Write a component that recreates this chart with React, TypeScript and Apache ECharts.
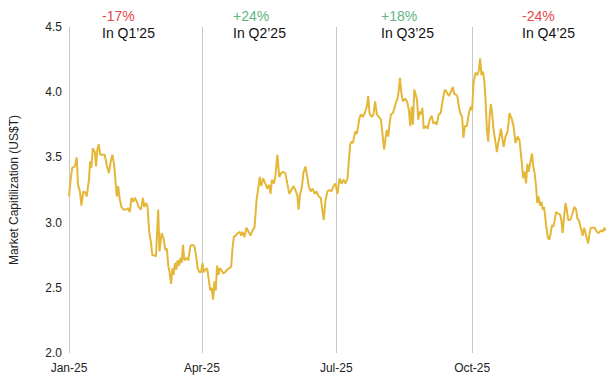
import React, { useEffect, useRef } from "react";
import * as echarts from "echarts";

// Day offsets from 1 Jan 2025 and market cap values (US$T)
const days: number[] = [
  0, 1.2, 2.2, 3.9, 5.2, 6.1, 7.5, 8.4, 9.7, 11.1, 12.0, 13.6, 14.3, 15.1, 16.1, 17.5, 18.3, 19.2, 20.2, 21.1,
  22.6, 24.2, 25.6, 27.0, 28.3, 29.4, 30.6, 31.7, 32.4, 33.3, 34.2, 35.5, 36.9, 38.5, 40.1, 41.2, 42.3, 43.5, 44.6, 46.0,
  47.1, 48.7, 50.1, 50.9, 52.3, 53.2, 54.3, 55.5, 56.4, 57.7, 58.9, 60.4, 61.3, 62.7, 64.0, 65.2, 66.3, 67.2, 68.1, 69.1,
  70.0, 70.8, 71.8, 72.7, 73.5, 74.5, 75.4, 76.3, 77.2, 78.1, 79.5, 80.8, 82.2, 83.5, 84.9, 86.0, 87.1, 88.3, 89.4, 90.5,
  91.2, 92.4, 93.5, 94.6, 95.6, 96.6, 97.6, 98.5, 99.4, 100.3, 101.2, 102.1, 103.0, 104.4, 105.7, 107.1, 108.5, 109.8, 110.7, 111.6,
  112.9, 114.3, 115.7, 116.6, 117.5, 118.8, 120.2, 121.6, 122.9, 124.3, 125.6, 127.0, 128.4, 129.2, 130.2, 131.5, 132.9, 134.3, 135.6, 136.5,
  137.4, 138.7, 139.7, 141.1, 142.4, 143.8, 145.1, 146.5, 147.8, 149.2, 150.6, 151.9, 153.3, 154.6, 155.5, 156.4, 157.8, 158.7, 160.1, 161.4,
  162.3, 163.7, 165.0, 166.4, 167.7, 169.1, 170.5, 171.3, 172.5, 173.7, 175.0, 176.4, 177.7, 179.1, 180.4, 181.8, 183.2, 184.5, 185.9, 187.2,
  188.6, 189.5, 190.4, 191.3, 192.2, 193.1, 194.0, 194.9, 195.8, 196.7, 197.6, 199.0, 200.3, 201.7, 202.6, 203.5, 204.9, 206.2, 207.3, 208.5,
  209.8, 211.2, 212.1, 213.4, 214.4, 215.3, 216.2, 217.1, 218.0, 219.4, 220.7, 221.6, 222.5, 223.4, 224.1, 225.0, 226.1, 227.5, 228.9, 230.2,
  231.1, 232.1, 232.9, 233.8, 234.8, 235.7, 236.5, 237.5, 238.4, 239.3, 240.2, 241.6, 242.9, 244.3, 245.6, 246.7, 248.1, 249.0, 250.4, 251.7,
  253.1, 254.5, 255.8, 257.2, 258.5, 259.9, 260.8, 262.1, 263.0, 264.0, 264.9, 266.2, 267.1, 268.1, 269.4, 270.8, 272.1, 273.0, 273.9, 275.3,
  276.6, 277.6, 278.4, 279.3, 280.3, 281.2, 282.1, 283.0, 283.9, 284.8, 285.7, 286.6, 287.5, 288.9, 289.8, 290.7, 291.6, 292.5, 293.4, 294.3,
  295.6, 297.0, 298.3, 299.7, 301.0, 302.4, 303.8, 305.1, 306.7, 307.6, 308.5, 309.5, 310.4, 311.3, 312.7, 313.5, 314.4, 315.3, 316.3, 317.1,
  318.0, 319.0, 319.9, 320.8, 321.7, 322.6, 323.5, 324.4, 325.3, 326.2, 327.1, 328.0, 328.9, 329.8, 331.2, 332.6, 333.4, 334.3, 335.3, 336.2,
  337.1, 338.0, 339.4, 340.7, 342.1, 343.4, 344.3, 345.2, 346.1, 347.0, 347.9, 348.8, 349.8, 350.6, 351.6, 352.5, 353.4, 354.7, 356.1, 357.4,
  358.8, 360.1, 361.5, 362.4, 363.3,
];

const values: number[] = [
  3.20, 3.34, 3.42, 3.43, 3.50, 3.29, 3.23, 3.13, 3.24, 3.23, 3.20, 3.34, 3.47, 3.42, 3.57, 3.54, 3.43, 3.56, 3.60, 3.52,
  3.52, 3.52, 3.44, 3.38, 3.47, 3.52, 3.44, 3.29, 3.20, 3.28, 3.19, 3.12, 3.10, 3.10, 3.11, 3.08, 3.19, 3.16, 3.19, 3.16,
  3.12, 3.10, 3.19, 3.12, 3.15, 3.12, 2.93, 2.85, 2.75, 2.75, 2.74, 3.10, 2.78, 2.92, 2.88, 2.79, 2.80, 2.67, 2.62, 2.53,
  2.65, 2.60, 2.69, 2.64, 2.71, 2.67, 2.73, 2.69, 2.83, 2.71, 2.73, 2.71, 2.82, 2.83, 2.82, 2.75, 2.65, 2.62, 2.62, 2.69,
  2.62, 2.64, 2.65, 2.57, 2.48, 2.50, 2.41, 2.55, 2.48, 2.67, 2.60, 2.65, 2.64, 2.61, 2.62, 2.64, 2.65, 2.66, 2.80, 2.89,
  2.90, 2.92, 2.93, 2.90, 2.93, 2.89, 2.96, 2.93, 2.90, 2.94, 2.96, 3.17, 3.28, 3.35, 3.28, 3.34, 3.30, 3.26, 3.29, 3.22,
  3.33, 3.30, 3.35, 3.52, 3.35, 3.38, 3.39, 3.38, 3.30, 3.22, 3.25, 3.28, 3.25, 3.21, 3.10, 3.21, 3.28, 3.38, 3.43, 3.35,
  3.28, 3.24, 3.26, 3.22, 3.24, 3.20, 3.19, 3.12, 3.02, 3.17, 3.24, 3.25, 3.24, 3.28, 3.30, 3.22, 3.34, 3.30, 3.33, 3.30,
  3.34, 3.47, 3.60, 3.62, 3.61, 3.66, 3.70, 3.68, 3.74, 3.80, 3.83, 3.81, 3.84, 3.89, 3.97, 3.84, 3.81, 3.83, 3.93, 3.83,
  3.81, 3.79, 3.70, 3.56, 3.65, 3.71, 3.66, 3.76, 3.83, 3.84, 3.89, 3.93, 3.95, 4.02, 4.11, 4.00, 3.93, 3.95, 3.93, 3.86,
  3.74, 3.89, 3.75, 4.02, 3.98, 3.94, 3.79, 3.85, 3.83, 3.88, 3.72, 3.74, 3.72, 3.79, 3.82, 3.76, 3.77, 3.75, 3.83, 3.84,
  3.94, 4.02, 4.00, 3.97, 4.00, 4.04, 3.99, 3.98, 3.97, 3.89, 3.84, 3.81, 3.65, 3.74, 3.74, 3.84, 3.89, 3.86, 4.07, 4.15,
  4.13, 4.17, 4.26, 4.13, 4.16, 4.09, 3.94, 3.71, 3.62, 3.81, 3.91, 3.83, 3.71, 3.61, 3.54, 3.61, 3.66, 3.72, 3.65, 3.58,
  3.66, 3.70, 3.84, 3.80, 3.74, 3.61, 3.66, 3.63, 3.45, 3.34, 3.39, 3.30, 3.45, 3.39, 3.48, 3.53, 3.43, 3.38, 3.28, 3.15,
  3.20, 3.13, 3.16, 3.10, 3.12, 3.03, 2.94, 2.88, 2.87, 2.92, 2.98, 2.97, 3.02, 3.08, 3.07, 3.06, 3.02, 2.92, 3.05, 3.15,
  3.10, 3.02, 3.02, 3.06, 3.12, 3.10, 3.03, 3.02, 2.98, 2.94, 2.90, 2.96, 2.92, 2.88, 2.84, 2.92, 2.96, 2.96, 2.96, 2.93,
  2.92, 2.94, 2.93, 2.96, 2.94,
];

// Quarter starts (day offsets) and their axis labels
const quarterDays: number[] = [0, 90, 181, 273];
const quarterLabels: string[] = ["Jan-25", "Apr-25", "Jul-25", "Oct-25"];

// Quarter annotations
const quarterChanges: string[] = ["-17%", "+24%", "+18%", "-24%"];
const quarterNames: string[] = ["In Q1\u201925", "In Q2\u201925", "In Q3\u201925", "In Q4\u201925"];
const quarterTextX: number[] = [102, 233, 381, 522];

const FONT = "Liberation Sans, Arial, Helvetica, sans-serif";
const RED = "#e5484a";
const GREEN = "#5fb67f";

export default function App() {
  const ref = useRef<HTMLDivElement>(null);

  useEffect(() => {
    document.body.style.margin = "0";
    if (!ref.current) return;
    const chart = echarts.init(ref.current, undefined, { renderer: "svg" });

    const data = days.map((d, i) => [d, values[i]]);

    const graphics: any[] = [];
    quarterChanges.forEach((c, i) => {
      graphics.push({
        type: "text",
        x: quarterTextX[i],
        y: 16,
        style: {
          text: c,
          fill: c.startsWith("-") ? RED : GREEN,
          font: `14px ${FONT}`,
          verticalAlign: "middle",
          align: "left",
        },
      });
      graphics.push({
        type: "text",
        x: quarterTextX[i],
        y: 33,
        style: {
          text: quarterNames[i],
          fill: "#111",
          font: `14px ${FONT}`,
          verticalAlign: "middle",
          align: "left",
        },
      });
    });

    chart.setOption({
      animation: false,
      backgroundColor: "#fff",
      grid: { left: 69, right: 5, top: 27, bottom: 34, containLabel: false },
      xAxis: {
        type: "value",
        min: 0,
        max: 365,
        axisLine: { show: false },
        axisTick: { show: false },
        splitLine: { show: false },
        axisLabel: {
          customValues: quarterDays,
          formatter: (v: number) => {
            const idx = quarterDays.indexOf(v);
            return idx >= 0 ? quarterLabels[idx] : "";
          },
          color: "#222",
          fontSize: 12,
          fontFamily: FONT,
          margin: 9,
        },
      },
      yAxis: {
        type: "value",
        min: 2,
        max: 4.5,
        interval: 0.5,
        name: "Market Capitilization (US$T)",
        nameLocation: "middle",
        nameGap: 49,
        nameTextStyle: { color: "#222", fontSize: 12, fontFamily: FONT },
        axisLine: { show: false },
        axisTick: { show: false },
        splitLine: { show: false },
        axisLabel: {
          formatter: (v: number) => v.toFixed(1),
          color: "#222",
          fontSize: 12,
          fontFamily: FONT,
          margin: 7,
        },
      },
      graphic: graphics,
      series: [
        {
          type: "line",
          data,
          showSymbol: false,
          symbol: "none",
          lineStyle: { color: "#e5b738", width: 2 },
          z: 3,
          markLine: {
            silent: true,
            symbol: "none",
            label: { show: false },
            lineStyle: { color: "#c8c8c8", width: 1, type: "solid" },
            z: 1,
            data: quarterDays.map((d) => ({ xAxis: d })),
          },
        },
      ],
    });

    return () => chart.dispose();
  }, []);

  return (
    <div
      ref={ref}
      style={{ position: "fixed", left: 0, top: 0, width: 613, height: 387 }}
    />
  );
}
